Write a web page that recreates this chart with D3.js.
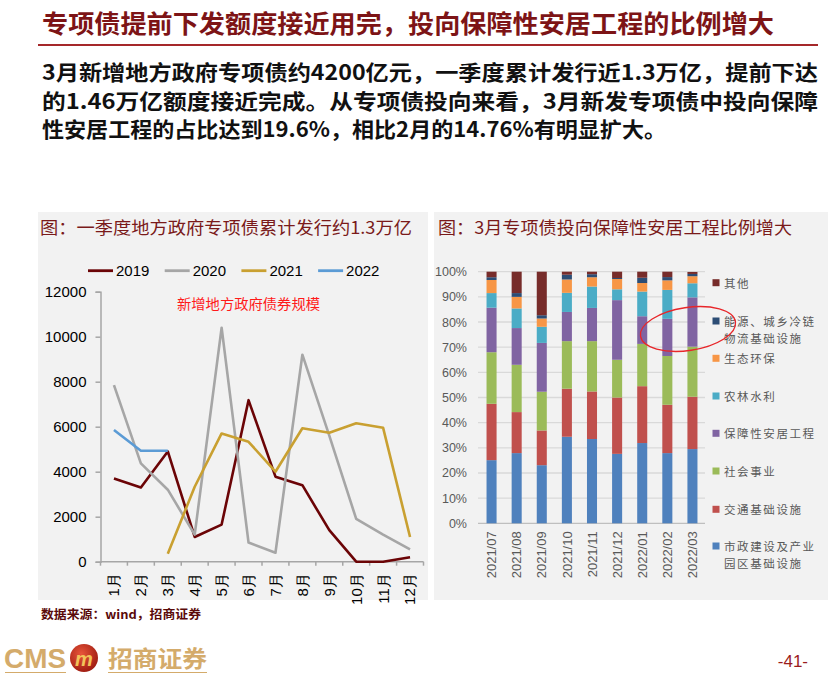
<!DOCTYPE html>
<html><head><meta charset="utf-8">
<script src="https://cdn.jsdelivr.net/npm/d3@7/dist/d3.min.js"></script>
<style>body{margin:0;background:#fff;} svg{display:block;}</style>
</head><body>
<svg id="c" width="830" height="674"></svg>
<script>
// ---------------- data ----------------
const months = ["1月","2月","3月","4月","5月","6月","7月","8月","9月","10月","11月","12月"];
const years = ["2019","2020","2021","2022"];
const v2019 = [3700,3300,4900,1100,1650,7180,3780,3400,1400,0,0,200];
const v2020 = [7850,4370,3200,1200,10400,850,400,9200,5600,1900,1200,550];
const v2021 = [null,null,350,3330,5700,5330,4000,5930,5730,6150,5950,1100];
const v2022 = [5850,4930,4930,null,null,null,null,null,null,null,null,null];
const yTicksLeft = [0,2000,4000,6000,8000,10000,12000];

const periods = ["2021/07","2021/08","2021/09","2021/10","2021/11","2021/12","2022/01","2022/02","2022/03"];
const categories = ["市政建设及产业园区基础设施","交通基础设施","社会事业","保障性安居工程","农林水利","生态环保","能源、城乡冷链物流基础设施","其他"];
const sMunicipal = [25.1,27.9,23.1,34.4,33.5,27.6,31.9,27.9,29.5];
const sTransport = [22.4,16.3,13.8,19.1,18.9,22.4,22.6,19.2,20.8];
const sSocial    = [20.5,18.8,15.4,18.9,20.0,15.0,16.8,19.4,19.9];
const sHousing   = [17.7,14.6,19.4,11.6,13.2,23.7,11.0,14.76,19.6];
const sFarm      = [5.8,7.8,6.4,7.6,8.5,4.3,9.8,11.5,5.6];
const sEco       = [5.2,4.6,3.3,5.3,3.7,4.1,3.4,3.8,2.8];
const sEnergy    = [1.1,1.5,1.3,1.9,1.2,0.4,2.1,1.3,0.9];
const sOther     = [2.2,8.5,17.3,1.2,1.0,2.5,2.4,2.2,0.8];
const yTicksRight = [0,10,20,30,40,50,60,70,80,90,100];
const legendLines = [["市政建设及产业","园区基础设施"],["交通基础设施"],["社会事业"],["保障性安居工程"],["农林水利"],["生态环保"],["能源、城乡冷链","物流基础设施"],["其他"]];

// ---------------- page ----------------
const svg = d3.select("#c");
const CJK = "'Noto Sans CJK SC','Noto Sans',sans-serif";
const ARIAL = "'Liberation Sans',Arial,sans-serif";
const darkRed = "#7d1416";

svg.append("text").attr("x",42).attr("y",22).attr("dominant-baseline","central")
  .attr("font-family",CJK).attr("font-weight",700).attr("font-size",25)
  .attr("fill",darkRed).attr("textLength",732).attr("lengthAdjust","spacingAndGlyphs")
  .text("专项债提前下发额度接近用完，投向保障性安居工程的比例增大");
svg.append("line").attr("x1",38).attr("x2",818).attr("y1",45).attr("y2",45)
  .attr("stroke","#a5282a").attr("stroke-width",2);

const body = [
 ["3月新增地方政府专项债约4200亿元，一季度累计发行近1.3万亿，提前下达",776],
 ["的1.46万亿额度接近完成。从专项债投向来看，3月新发专项债中投向保障",776],
 ["性安居工程的占比达到19.6%，相比2月的14.76%有明显扩大。",624]
];
body.forEach((b,i)=>{
  svg.append("text").attr("x",42).attr("y",71+i*28.5).attr("dominant-baseline","central")
    .attr("font-family",CJK).attr("font-weight",700).attr("font-size",21)
    .attr("fill","#111").attr("textLength",b[1]).attr("lengthAdjust","spacingAndGlyphs")
    .text(b[0]);
});

// panels
svg.append("rect").attr("x",38).attr("y",212).attr("width",390).attr("height",388).attr("fill","#f2f2f2");
svg.append("rect").attr("x",434).attr("y",212).attr("width",394).attr("height",388).attr("fill","#f2f2f2");
svg.append("text").attr("x",40).attr("y",226).attr("dominant-baseline","central")
  .attr("font-family",CJK).attr("font-size",17).attr("fill","#7a1a1a")
  .attr("textLength",372).attr("lengthAdjust","spacingAndGlyphs")
  .text("图：一季度地方政府专项债累计发行约1.3万亿");
svg.append("text").attr("x",438).attr("y",226).attr("dominant-baseline","central")
  .attr("font-family",CJK).attr("font-size",17).attr("fill","#7a1a1a")
  .attr("textLength",354).attr("lengthAdjust","spacingAndGlyphs")
  .text("图：3月专项债投向保障性安居工程比例增大");

// ---------------- left line chart ----------------
const xL = d3.scaleBand().domain(months).range([100.5,423.5]);
const yL = d3.scaleLinear().domain([0,12000]).range([561.7,291.7]);
const gL = svg.append("g");
const axisCol = "#a6a6a6";

const yAxL = gL.append("g").attr("transform","translate(100.5,0)")
  .call(d3.axisLeft(yL).tickValues(yTicksLeft).tickSize(5).tickPadding(9).tickFormat(d3.format("d")));
yAxL.select(".domain").attr("stroke",axisCol).attr("stroke-width",1.5);
yAxL.selectAll(".tick line").attr("stroke",axisCol).attr("stroke-width",1.5);
yAxL.selectAll(".tick text").attr("font-family",ARIAL).attr("font-size",15).attr("fill","#000");

gL.append("line").attr("x1",100.5).attr("x2",423.5).attr("y1",yL(0)).attr("y2",yL(0))
  .attr("stroke",axisCol).attr("stroke-width",1.5);
const bounds = months.map(m=>xL(m)).concat([xL.range()[1]]);
gL.selectAll(".xt").data(bounds).join("line")
  .attr("x1",d=>d).attr("x2",d=>d).attr("y1",yL(0)).attr("y2",yL(0)+4)
  .attr("stroke",axisCol).attr("stroke-width",1.5);
gL.selectAll(".xl").data(months).join("text")
  .attr("transform",d=>`translate(${xL(d)+xL.bandwidth()/2},${yL(0)+11.5}) rotate(-90)`)
  .attr("text-anchor","end").attr("dy","0.36em")
  .attr("font-family",ARIAL).attr("font-size",15).attr("fill","#000").text(d=>d);

const series = [
  {name:"2019",vals:v2019,color:"#6b0406"},
  {name:"2020",vals:v2020,color:"#a6a6a6"},
  {name:"2021",vals:v2021,color:"#c9a031"},
  {name:"2022",vals:v2022,color:"#5b9bd5"}
];
const line = d3.line().defined(d=>d.v!==null)
  .x(d=>xL(d.m)+xL.bandwidth()/2).y(d=>yL(d.v));
series.forEach(s=>{
  gL.append("path").datum(months.map((m,i)=>({m,v:s.vals[i]})))
    .attr("d",line).attr("fill","none").attr("stroke",s.color)
    .attr("stroke-width",2.6).attr("stroke-linejoin","round");
});
// legend
series.forEach((s,i)=>{
  const x0 = 88 + i*76.7;
  gL.append("line").attr("x1",x0).attr("x2",x0+25).attr("y1",270.7).attr("y2",270.7)
    .attr("stroke",s.color).attr("stroke-width",2.8);
  gL.append("text").attr("x",x0+28).attr("y",270.7).attr("dominant-baseline","central")
    .attr("font-family",ARIAL).attr("font-size",15).attr("fill","#000").text(s.name);
});
gL.append("text").attr("x",177).attr("y",303).attr("dominant-baseline","central")
  .attr("font-family",CJK).attr("font-size",14).attr("fill","#ff1a1a")
  .attr("textLength",143).attr("lengthAdjust","spacingAndGlyphs").text("新增地方政府债券规模");

// ---------------- right stacked bar chart ----------------
const colors = ["#4f81bd","#c0504d","#9bbb59","#8064a2","#4bacc6","#f79646","#2c4d75","#772c2a"];
const seriesVals = [sMunicipal,sTransport,sSocial,sHousing,sFarm,sEco,sEnergy,sOther];
const table = periods.map((p,i)=>{ const o={period:p}; categories.forEach((c,k)=>o[c]=seriesVals[k][i]); return o; });
const stack = d3.stack().keys(categories)(table);

const xR = d3.scaleBand().domain(periods).range([478.5,705.5]).paddingInner(0.6).paddingOuter(0.32);
const yR = d3.scaleLinear().domain([0,100]).range([523.3,271.7]);
const gR = svg.append("g");
gR.selectAll(".grid").data(yTicksRight).join("line")
  .attr("x1",478).attr("x2",705).attr("y1",d=>yR(d)).attr("y2",d=>yR(d))
  .attr("stroke",d=>d===0?"#bfbfbf":"#d9d9d9").attr("stroke-width",1.3);
gR.selectAll(".yl").data(yTicksRight).join("text")
  .attr("x",467).attr("y",d=>yR(d)).attr("dy","0.36em").attr("text-anchor","end")
  .attr("font-family",ARIAL).attr("font-size",12.5).attr("fill","#595959").text(d=>d+"%");

stack.forEach((layer,k)=>{
  gR.append("g").attr("fill",colors[k]).selectAll("rect").data(layer).join("rect")
    .attr("x",d=>xR(d.data.period)).attr("width",xR.bandwidth())
    .attr("y",d=>yR(Math.min(d[1],100))).attr("height",d=>yR(d[0])-yR(Math.min(d[1],100)));
});
gR.selectAll(".xl").data(periods).join("text")
  .attr("transform",d=>`translate(${xR(d)+xR.bandwidth()/2},${yR(0)+8}) rotate(-90)`)
  .attr("text-anchor","end").attr("dy","0.36em")
  .attr("font-family",ARIAL).attr("font-size",13).attr("fill","#595959").text(d=>d);

// legend (top to bottom = reverse stack order)
const legendY = [546,509.3,471,433.3,396,358.3,321,282.7];
categories.forEach((c,k)=>{
  const y0 = legendY[k];
  gR.append("rect").attr("x",712.5).attr("y",y0-3.5).attr("width",7).attr("height",7).attr("fill",colors[k]);
  legendLines[k].forEach((t,j)=>{
    gR.append("text").attr("x",724).attr("y",y0+j*17).attr("dominant-baseline","central")
      .attr("font-family",CJK).attr("font-size",11.5).attr("letter-spacing",1.6)
      .attr("fill","#595959").text(t);
  });
});
// red ellipse highlight
gR.append("ellipse").attr("cx",688).attr("cy",329).attr("rx",48).attr("ry",21.5)
  .attr("transform","rotate(-8.5,688,329)")
  .attr("fill","none").attr("stroke","#e8262a").attr("stroke-width",1.3);

// ---------------- footer ----------------
svg.append("text").attr("x",41).attr("y",613).attr("dominant-baseline","central")
  .attr("font-family",CJK).attr("font-weight",700).attr("font-size",12.5).attr("fill","#5a0a0a")
  .attr("textLength",160).attr("lengthAdjust","spacingAndGlyphs").text("数据来源：wind，招商证券");

const logoCol = "#d4ab6b";
svg.append("text").attr("x",4).attr("y",658).attr("dominant-baseline","central")
  .attr("font-family","'Liberation Sans Narrow','Liberation Sans',sans-serif").attr("font-weight",700).attr("font-size",28)
  .attr("fill",logoCol).attr("textLength",62).attr("lengthAdjust","spacingAndGlyphs").text("CMS");
const defs = svg.append("defs");
const rg = defs.append("radialGradient").attr("id","lg").attr("cx","40%").attr("cy","35%").attr("r","70%");
rg.append("stop").attr("offset","0%").attr("stop-color","#e8553a");
rg.append("stop").attr("offset","100%").attr("stop-color","#9c1a10");
svg.append("circle").attr("cx",84).attr("cy",658).attr("r",14).attr("fill","url(#lg)");
svg.append("text").attr("x",84).attr("y",659).attr("text-anchor","middle").attr("dominant-baseline","central")
  .attr("font-family",ARIAL).attr("font-weight",700).attr("font-style","italic").attr("font-size",20)
  .attr("fill","#f2c35a").text("m");
svg.append("text").attr("x",108).attr("y",657).attr("dominant-baseline","central")
  .attr("font-family",CJK).attr("font-weight",700).attr("font-size",23).attr("fill",logoCol)
  .attr("textLength",99).attr("lengthAdjust","spacingAndGlyphs").text("招商证券");
svg.append("line").attr("x1",5).attr("x2",66).attr("y1",672.5).attr("y2",672.5).attr("stroke",logoCol).attr("stroke-width",1);
svg.append("line").attr("x1",108).attr("x2",207).attr("y1",672.5).attr("y2",672.5).attr("stroke",logoCol).attr("stroke-width",1);
svg.append("text").attr("x",808).attr("y",661).attr("text-anchor","end").attr("dominant-baseline","central")
  .attr("font-family",ARIAL).attr("font-size",17).attr("fill","#9b1c1c").text("-41-");
</script>
</body></html>
